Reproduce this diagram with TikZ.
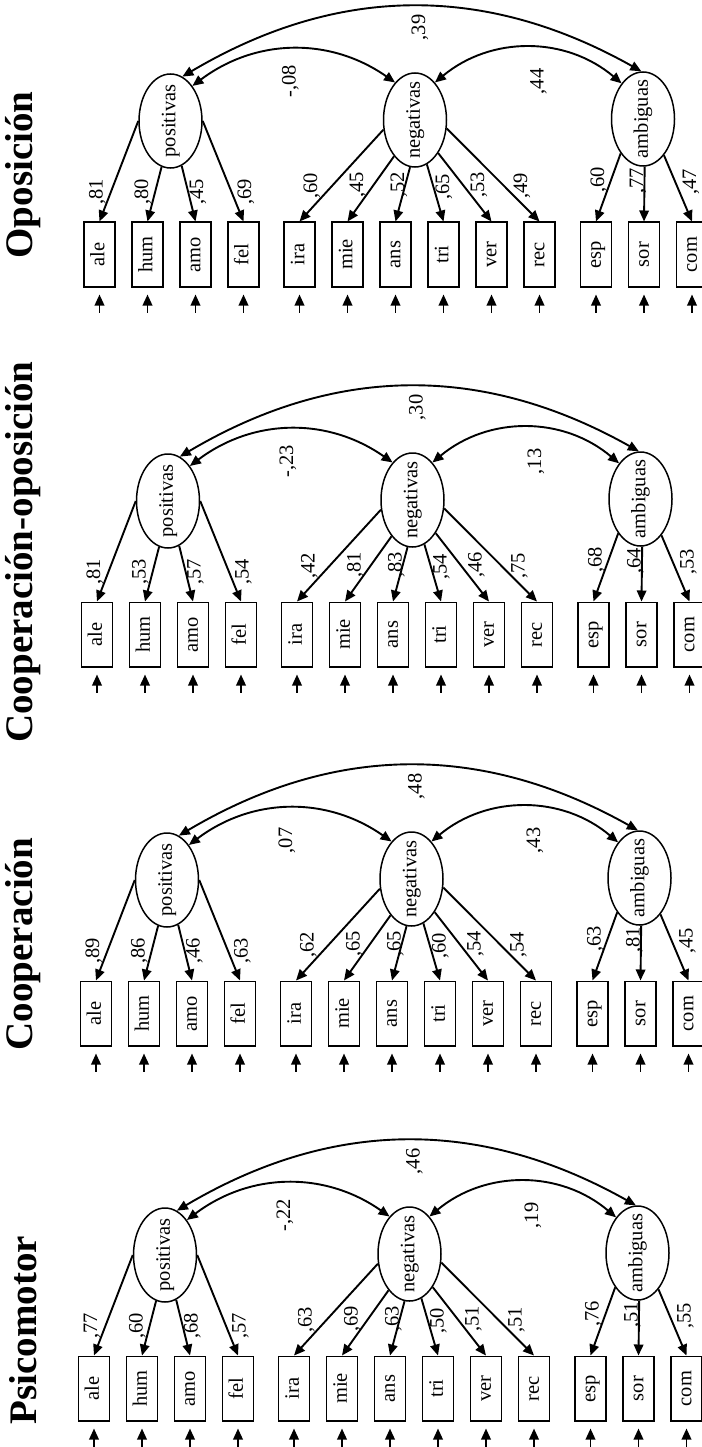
\documentclass[tikz,border=0pt]{standalone}
\usepackage{fontspec}
\setmainfont{Liberation Serif}
\usepackage{graphicx}
\usetikzlibrary{arrows.meta,shapes.geometric}
\tikzset{
  txt/.style={font=\fontsize{20.5}{24}\selectfont},
  obs/.style={txt, draw, line width=1.5pt, minimum width=31pt, minimum height=64.5pt, inner sep=0pt},
  lat/.style={txt, ellipse, draw, line width=1.5pt, minimum width=63pt, minimum height=94pt, inner sep=0pt},
  lab/.style={txt, rotate=90, inner sep=0pt},
  load/.style={line width=1.9pt, -{Triangle[length=11pt,width=9.5pt]}},
  err/.style={load, shorten >=7pt},
  cov/.style={line width=1.9pt, {Triangle[length=11pt,width=9.5pt]}-{Triangle[length=11pt,width=9.5pt]}},
  ttl/.style={rotate=90, inner sep=0pt, font=\fontsize{39}{44}\selectfont\bfseries},
}
\newcommand\rtext[1]{\rotatebox{90}{\makebox[0pt]{\strut #1}}}
\newcommand\semPanel[5]{%
  \node[lat] (#1pos) at (170.5,101) {\rtext{positivas}};
  \node[lat] (#1neg) at (415,102) {\rtext{negativas}};
  \node[lat] (#1amb) at (643,103) {\rtext{ambiguas}};
  \foreach \nm/\xx/\lx/\ly/\src [count=\i from 0] in {
      ale/99.5/97.5/30/pos.180, hum/147.5/143/30/pos.259,
      amo/195.5/198/30/pos.284, fel/243.5/246/30/pos.0,
      ira/299.5/312/36/neg.197, mie/347.5/358/37/neg.240,
      ans/395.5/399/37/neg.264, tri/443.5/444/35/neg.285,
      ver/491.5/479/37/neg.305, rec/539.5/522/36/neg.345,
      esp/596/599/42/amb.237, sor/644/638/41/amb.272,
      com/692/691/40/amb.300}{%
    \node[obs] (#1\nm) at (\xx,-32.5) {\rtext{\nm}};
    \coordinate (#1e\nm) at (\xx,-90.5);
    \draw[err] (#1e\nm) -- (#1\nm);
    \draw[load] (#1\src) -- (#1\nm.north);
    \pgfmathtruncatemacro\lv{{#2}[\i]}%
    \node[lab] (#1l\nm) at (\lx,\ly) {,\lv};
  }
  \draw[cov] (#1pos.58) to[bend left=36] (#1neg.118);
  \draw[cov] (#1neg.62) to[bend left=40] (#1amb.121);
  \draw[cov] (#1pos.75) to[bend left=30] (#1amb.92);
  \node[lab] (#1c1) at (290.5,140.5) {#3};
  \node[lab] (#1c2) at (538.5,140.5) {#4};
  \node[lab] (#1c3) at (420,194.5) {#5};
}
\begin{document}
\begin{tikzpicture}[x=1pt,y=1pt]
\useasboundingbox (0,0) rectangle (701,-1447);
\node[ttl] (t1) at (23,-175) {Oposición};
\node[ttl] (t2) at (23,-552) {Cooperación-oposición};
\node[ttl] (t3) at (23,-944) {Cooperación};
\node[ttl] (t4) at (23,-1330) {Psicomotor};
\begin{scope}[shift={(0,-222)}]
  \semPanel{A}{81,80,45,69,60,45,52,65,53,49,60,77,47}{-,08}{,44}{,39}
\end{scope}
\begin{scope}[shift={(-2.5,-602)}]
  \semPanel{B}{81,53,57,54,42,81,83,54,46,75,68,64,53}{-,23}{,13}{,30}
\end{scope}
\begin{scope}[shift={(-3.5,-981)}]
  \semPanel{C}{89,86,46,63,62,65,65,60,54,54,63,81,45}{,07}{,43}{,48}
\end{scope}
\begin{scope}[shift={(-5.5,-1356)}]
  \semPanel{D}{77,60,68,57,63,69,63,50,51,51,76,51,55}{-,22}{,19}{,46}
\end{scope}
\end{tikzpicture}
\end{document}
